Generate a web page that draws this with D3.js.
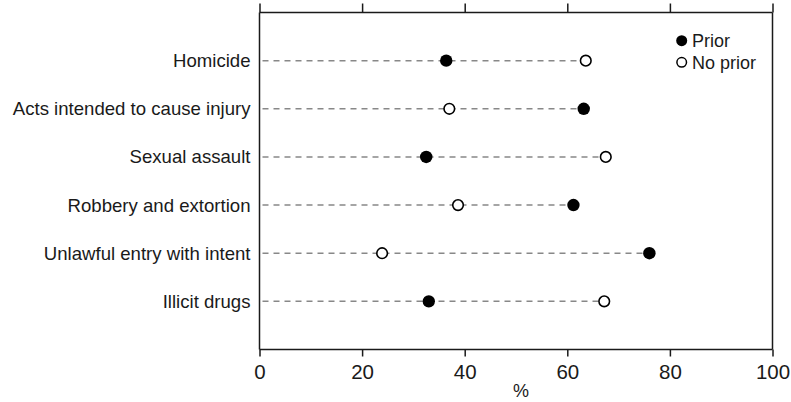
<!DOCTYPE html>
<html>
<head>
<meta charset="utf-8">
<script src="https://cdn.jsdelivr.net/npm/d3@7"></script>
<style>
body{margin:0;background:#fff;}
text{font-family:"Liberation Sans",Arial,sans-serif;fill:#1a1a1a;}
</style>
</head>
<body>
<svg id="chart" width="791" height="402"></svg>
<script>
const categories = ["Homicide","Acts intended to cause injury","Sexual assault","Robbery and extortion","Unlawful entry with intent","Illicit drugs"];
const prior = [36.4, 63.2, 32.5, 61.2, 76.0, 33.0];
const noPrior = [63.6, 37.0, 67.5, 38.7, 23.9, 67.2];
const xTicks = [0,20,40,60,80,100];
const xLabel = "%";
const legendLabels = ["Prior","No prior"];

const svg = d3.select("#chart");
const m = {left:259.5, right:772.5, top:12.5, bottom:349.5};
const x = d3.scaleLinear().domain([0,100]).range([m.left,m.right]);
const y = d3.scalePoint().domain(categories).range([m.top,m.bottom]).padding(1);
const ff = "Liberation Sans, Arial, sans-serif";

// frame lines
const ax = svg.append("g").attr("stroke","#1a1a1a").attr("stroke-width",1.5);
ax.append("line").attr("x1",m.left).attr("x2",m.right).attr("y1",m.top).attr("y2",m.top);
ax.append("line").attr("x1",m.left).attr("x2",m.right).attr("y1",m.bottom).attr("y2",m.bottom);
ax.append("line").attr("x1",m.left).attr("x2",m.left).attr("y1",m.top).attr("y2",m.bottom);
ax.append("line").attr("x1",m.right).attr("x2",m.right).attr("y1",m.top).attr("y2",m.bottom);

// top axis (ticks only)
const topAxis = d3.axisTop(x).tickValues(xTicks).tickSize(9).tickFormat("");
const gt = svg.append("g").attr("transform",`translate(0,${m.top})`).call(topAxis);
gt.select(".domain").remove();
gt.selectAll("line").attr("stroke","#1a1a1a").attr("stroke-width",1.5);

// bottom axis
const botAxis = d3.axisBottom(x).tickValues(xTicks).tickSize(7).tickPadding(8).tickFormat(d3.format("d"));
const gb = svg.append("g").attr("transform",`translate(0,${m.bottom})`).call(botAxis);
gb.select(".domain").remove();
gb.selectAll("line").attr("stroke","#1a1a1a").attr("stroke-width",1.5);
gb.selectAll("text").attr("font-size",20.5).attr("font-family",ff).attr("fill","#1a1a1a");

svg.append("text").attr("x",521).attr("y",397).attr("text-anchor","middle").attr("font-size",18).text(xLabel);

// category labels
const ga = d3.axisLeft(y).tickSize(0).tickPadding(9);
const gl = svg.append("g").attr("transform",`translate(${m.left},0)`).call(ga);
gl.select(".domain").remove();
gl.selectAll("text").attr("font-size",18.6).attr("font-family",ff).attr("fill","#1a1a1a");

const rows = categories.map((c,i)=>({c, p:prior[i], n:noPrior[i]}));

// dashed lines
svg.append("g").selectAll("line").data(rows).join("line")
  .attr("x1",x(0)+1).attr("x2",d=>x(Math.max(d.p,d.n)))
  .attr("y1",d=>y(d.c)).attr("y2",d=>y(d.c))
  .attr("stroke","#888").attr("stroke-width",1.5).attr("stroke-dasharray","6,5").attr("stroke-dashoffset",-2);

// points
svg.append("g").selectAll("circle").data(rows).join("circle")
  .attr("cx",d=>x(d.n)).attr("cy",d=>y(d.c)).attr("r",5.3)
  .attr("fill","#fff").attr("stroke","#000").attr("stroke-width",1.6);
svg.append("g").selectAll("circle").data(rows).join("circle")
  .attr("cx",d=>x(d.p)).attr("cy",d=>y(d.c)).attr("r",6.2)
  .attr("fill","#000");

// legend
const lg = svg.append("g");
lg.append("circle").attr("cx",681.7).attr("cy",40.7).attr("r",5.5).attr("fill","#000");
lg.append("circle").attr("cx",681.7).attr("cy",62.3).attr("r",4.8).attr("fill","#fff").attr("stroke","#000").attr("stroke-width",1.5);
lg.append("text").attr("x",692).attr("y",40.7).attr("dy","0.35em").attr("font-size",18).text(legendLabels[0]);
lg.append("text").attr("x",692).attr("y",62.3).attr("dy","0.35em").attr("font-size",18).text(legendLabels[1]);
</script>
</body>
</html>
